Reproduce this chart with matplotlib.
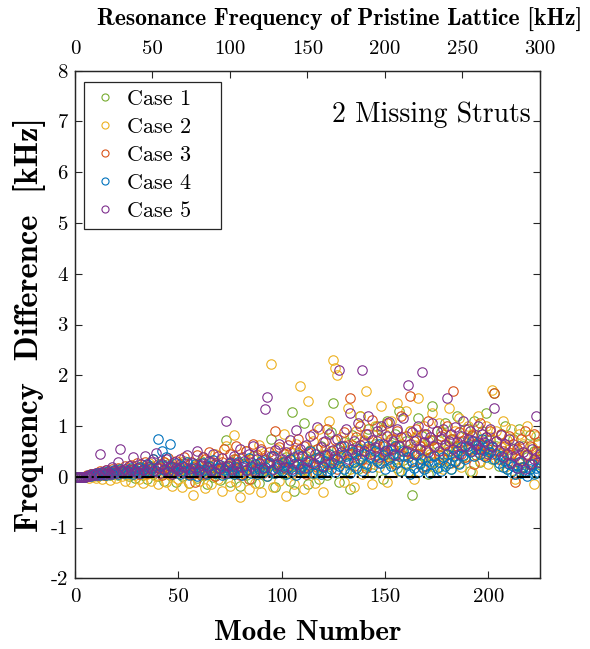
import numpy as np
import matplotlib
matplotlib.use("Agg")
import matplotlib.pyplot as plt

# frequency difference [kHz] per mode
case1 = [0, 0, 0, 0, 0, 0.02, 0.01, 0.04, 0.03, 0.06, 0.02, 0.08, 0.05, 0.03, 0.1, 0.07, 0.04, 0.12, 0.06, 0.09, 0.03, 0.14, 0.08, 0.05, 0.11,
         0.02, 0.16, 0.09, -0.03, 0.12, 0.07, 0.18, 0.04, 0.1, -0.05, 0.15, 0.22, 0.06, 0.12, 0.01, 0.19, 0.08, -0.08, 0.14, 0.25, 0.03, 0.11, 0.2, -0.1, 0.07,
         0.16, 0.02, 0.28, 0.09, -0.12, 0.13, 0.05, 0.21, -0.02, 0.1, 0.31, 0.04, 0.15, -0.15, 0.08, 0.19, 0.0, 0.26, 0.11, -0.07, 0.17, 0.06, 0.72, 0.13, -0.1,
         0.22, 0.05, 0.35, 0.12, -0.18, 0.09, 0.28, 0.03, 0.16, -0.05, 0.41, 0.1, 0.2, -0.12, 0.07, 0.33, 0.14, 0.02, 0.24, 0.75, 0.08, -0.2, 0.3, 0.11, 0.18,
         0.05, 0.38, 0.15, -0.08, 1.28, -0.28, 0.22, 0.47, 0.09, 0.3, 1.05, 0.14, -0.15, 0.52, 0.26, 0.08, 0.36, -0.05, 0.6, 0.19, 0.42, 0.03, 0.31, 0.88, 1.45,
         0.25, 0.55, -0.1, 0.37, 0.68, 0.12, 0.45, -0.25, 0.82, 0.3, 0.58, 0.15, 1.2, 0.4, 0.7, 0.22, 0.95, 0.5, 0.08, 0.65, 1.0, 0.35, 0.78, -0.05, 0.48,
         1.1, 0.28, 0.62, 0.4, 0.85, 0.18, 1.3, 0.52, 0.33, 0.7, 0.1, 0.9, -0.35, 0.45, 0.6, 1.15, 0.25, 0.8, 0.38, 0.55, 0.05, 0.72, 1.4, 0.3, 0.65,
         0.2, 0.88, 0.45, 1.05, 0.35, 0.6, 0.15, 0.75, 0.5, 1.2, 0.28, 0.68, 0.4, 0.95, 0.55, 0.12, 0.8, 1.1, 0.42, 0.65, 0.3, 0.9, 0.58, 1.25, 0.48,
         0.72, 0.35, 1.65, 0.6, 0.22, 0.85, 0.4, 1.0, 0.15, 0.55, 0.3, 0.75, 0.05, 0.45, 0.95, 0.2, 0.6, 0.1, 0.38, 0.82, 0.25, 0.5, 0.08, 0.65, 0.3]
case2 = [0, 0, 0, 0, 0, 0.01, -0.02, 0.05, 0.02, -0.03, 0.07, 0.04, -0.05, 0.1, 0.03, 0.08, -0.06, 0.12, 0.05, -0.02, 0.15, 0.07, 0.02, -0.08, 0.18,
         0.06, -0.1, 0.14, 0.03, 0.22, -0.04, 0.09, -0.12, 0.17, 0.05, 0.28, -0.08, 0.11, 0.02, -0.15, 0.2, 0.07, 0.3, -0.1, 0.13, 0.04, -0.18, 0.24, 0.08, -0.05,
         0.15, -0.2, 0.32, 0.06, -0.12, 0.18, -0.35, 0.1, 0.25, -0.08, 0.04, 0.38, -0.22, 0.12, 0.2, -0.15, 0.07, 0.45, -0.05, 0.16, -0.28, 0.22, 0.6, 0.09, -0.18,
         0.3, 0.82, -0.1, 0.14, -0.4, 0.26, 0.05, 0.5, -0.25, 0.18, 0.35, -0.12, 0.08, 0.62, -0.3, 0.15, 0.42, 0.02, 0.25, 2.22, -0.2, 0.1, 0.55, -0.08, 0.3,
         0.85, -0.38, 0.2, 0.48, 0.05, -0.15, 0.65, 0.28, 1.78, 0.12, -0.25, 0.4, 1.5, 0.08, 0.7, -0.12, 0.35, 0.95, 0.18, -0.3, 0.55, 0.25, 1.1, 0.42, 2.3,
         2.15, 2.0, 0.3, 0.78, -0.1, 0.5, 1.35, 0.15, 0.62, -0.2, 0.9, 0.35, 1.2, 0.05, 0.72, 1.68, 0.28, 0.48, -0.15, 1.0, 0.6, 0.2, 1.4, 0.38, 0.85,
         -0.1, 0.55, 1.1, 0.3, 0.75, 1.45, 0.12, 0.65, 0.42, 1.3, 0.25, 0.9, 0.5, -0.05, 0.8, 1.55, 0.35, 0.6, 1.0, 0.18, 0.7, 0.45, 1.25, 0.3, 0.58,
         1.05, 0.4, 0.15, 0.85, 0.55, 1.35, 0.28, 0.7, 0.9, 0.48, 1.15, 0.2, 0.62, 0.38, 1.0, 0.75, 0.1, 0.55, 0.82, 1.2, 0.32, 0.65, 0.45, 1.0, 0.25,
         0.78, 1.7, 0.5, 0.9, 0.35, 0.6, 1.1, 0.2, 0.72, 0.45, 0.95, 0.3, -0.05, 0.55, 0.85, 0.15, 0.65, 0.4, 1.0, 0.25, 0.58, -0.15, 0.8, 0.35, 0.5]
case3 = [0, 0, 0, 0, 0, 0.03, 0.02, 0.06, 0.04, 0.08, 0.05, 0.11, 0.07, 0.04, 0.13, 0.09, 0.06, 0.15, 0.1, 0.07, 0.18, 0.12, 0.08, 0.21, 0.14,
         0.09, 0.24, 0.16, 0.11, 0.28, 0.05, 0.19, 0.13, 0.3, 0.08, 0.22, 0.15, 0.34, 0.1, 0.25, 0.18, 0.04, 0.29, 0.14, 0.36, 0.07, 0.21, 0.12, 0.32, 0.16,
         0.26, 0.09, 0.38, 0.17, 0.05, 0.3, 0.2, -0.1, 0.42, 0.13, 0.27, 0.06, 0.35, 0.19, 0.48, 0.1, 0.24, 0.02, 0.4, 0.15, 0.3, 0.55, 0.08, 0.22, 0.45,
         0.12, 0.34, 0.6, 0.18, 0.04, 0.38, 0.25, 0.5, -0.05, 0.3, 0.65, 0.15, 0.42, 0.2, 0.55, 0.08, 0.35, 0.27, 0.48, 0.12, 0.4, 0.9, 0.22, 0.58, 0.3,
         0.45, 0.15, 0.62, 0.35, 0.1, 0.52, 0.28, 0.75, 0.18, 0.4, 0.6, 0.05, 0.48, 0.3, 0.85, 0.22, 0.55, 0.38, 0.12, 0.68, 0.42, 0.95, 0.26, 0.5, 0.35,
         0.72, 0.15, 0.58, 0.4, 0.88, 0.3, 0.62, 1.55, 0.45, 0.22, 0.78, 0.5, 1.0, 0.35, 0.65, 0.18, 0.85, 0.55, 1.12, 0.4, 0.7, 0.28, 0.92, 0.6, 0.45,
         1.05, 0.38, 0.75, 0.55, 0.25, 0.9, 0.62, 1.2, 0.4, 0.8, 0.5, 1.6, 0.32, 0.7, 0.95, 0.45, 0.6, 0.2, 0.85, 0.52, 1.1, 0.38, 0.72, 0.58, 0.9,
         0.42, 0.8, 0.35, 0.65, 1.0, 0.5, 0.75, 1.68, 0.3, 0.6, 0.88, 0.45, 0.7, 0.38, 0.95, 0.55, 0.82, 0.25, 0.65, 0.48, 1.05, 0.62, 0.4, 0.78, 0.55,
         0.9, 0.45, 1.65, 0.7, 0.35, 0.85, 0.5, 0.6, 0.28, 0.8, 0.42, 0.65, -0.1, 0.55, 0.35, 0.75, 0.2, 0.9, 0.45, 0.6, 0.3, 0.85, 0.5, 0.68, 0.4]
case4 = [0, 0, 0, 0, 0, 0.01, 0.03, 0.02, 0.05, 0.04, 0.07, 0.03, 0.09, 0.06, 0.04, 0.11, 0.08, 0.05, 0.13, 0.09, 0.06, 0.15, 0.1, 0.07, 0.12,
         0.08, 0.17, 0.05, 0.13, 0.1, 0.2, 0.07, 0.15, 0.11, 0.26, 0.09, 0.18, 0.35, 0.12, 0.75, 0.22, 0.5, 0.14, 0.38, 0.1, 0.65, 0.2, 0.08, 0.28, 0.15,
         0.06, 0.22, 0.12, 0.3, 0.04, 0.18, 0.1, 0.25, 0.02, 0.16, 0.09, 0.28, 0.13, 0.05, 0.21, 0.11, 0.33, 0.07, 0.17, 0.24, 0.03, 0.14, 0.2, 0.08, 0.27,
         0.12, 0.05, 0.19, 0.3, 0.1, 0.04, 0.22, 0.14, 0.36, 0.08, 0.18, 0.25, 0.06, 0.15, 0.32, 0.1, 0.2, 0.02, 0.28, 0.13, 0.4, 0.08, 0.17, 0.24, 0.11,
         0.3, 0.06, 0.19, 0.35, 0.12, 0.25, 0.04, 0.42, 0.15, 0.22, 0.09, 0.3, 0.18, 0.5, 0.08, 0.26, 0.14, 0.38, 0.05, 0.2, 0.32, 0.11, 0.45, 0.16, 0.28,
         0.1, 0.35, 0.22, 0.6, 0.15, 0.4, 0.28, 0.08, 0.48, 0.3, 0.18, 0.55, 0.35, 0.12, 0.45, 0.25, 0.6, 0.38, 0.2, 0.5, 0.32, 0.65, 0.28, 0.42, 0.15,
         0.52, 0.35, 0.22, 0.45, 0.6, 0.3, 0.4, 0.12, 0.5, 0.25, 0.38, 0.05, 0.3, 0.18, 0.42, 0.1, 0.28, 0.35, 0.15, 0.22, 0.32, 0.08, 0.25, 0.4, 0.18,
         0.3, 0.12, 0.38, 0.22, 0.45, 0.28, 0.15, 0.4, 0.32, 0.5, 0.25, 0.58, 0.42, 0.35, 0.6, 0.48, 0.7, 0.4, 0.55, 0.62, 0.45, 0.75, 0.52, 0.38, 0.65,
         0.48, 0.58, 0.35, 0.45, 0.28, 0.4, 0.2, 0.32, 0.15, 0.25, 0.1, 0.22, 0.05, 0.18, 0.3, 0.08, 0.2, 0.12, 0.02, 0.15, 0.25, 0.05, 0.18, 0.1, 0.2]
case5 = [0, 0, 0, 0, 0, 0.01, 0.02, 0.05, 0.03, 0.08, 0.04, 0.45, 0.1, 0.06, 0.14, 0.08, 0.05, 0.2, 0.11, 0.07, 0.3, 0.55, 0.12, 0.16, 0.09,
         0.22, 0.13, 0.38, 0.1, 0.18, 0.07, 0.26, 0.14, 0.4, 0.09, 0.2, 0.3, 0.12, 0.46, 0.17, 0.08, 0.25, 0.15, 0.34, 0.11, 0.22, 0.06, 0.29, 0.18, 0.13,
         0.35, 0.1, 0.2, 0.42, 0.15, 0.08, 0.28, 0.18, 0.5, 0.12, 0.24, 0.38, 0.07, 0.2, 0.31, 0.14, 0.45, 0.1, 0.26, 0.18, 0.36, 0.08, 1.1, 0.22, 0.3,
         0.15, 0.4, 0.25, 0.1, 0.55, 0.2, 0.32, 0.14, 0.45, 0.22, 0.6, 0.12, 0.35, 0.28, 0.5, 0.18, 1.33, 1.57, 0.3, 0.4, 0.15, 0.52, 0.25, 0.65, 0.35,
         0.2, 0.48, 0.3, 0.72, 0.15, 0.38, 0.92, 0.25, 0.55, 0.4, 0.18, 0.62, 0.32, 0.8, 0.28, 0.45, 0.98, 0.35, 0.58, 0.22, 0.7, 0.42, 0.85, 0.3, 0.52,
         0.4, 0.75, 2.1, 0.48, 0.6, 0.95, 0.35, 1.25, 0.55, 0.7, 0.42, 1.05, 0.62, 2.1, 0.5, 0.85, 1.2, 0.45, 0.72, 0.58, 0.9, 0.38, 1.0, 0.65, 0.5,
         0.8, 1.08, 0.55, 0.7, 0.42, 0.95, 0.6, 0.78, 1.15, 0.5, 1.8, 0.65, 0.88, 0.45, 0.72, 1.0, 0.55, 2.07, 0.68, 0.85, 0.48, 0.78, 1.05, 0.6, 0.9,
         0.5, 0.75, 0.95, 0.62, 1.55, 0.7, 0.85, 0.55, 0.98, 0.68, 0.45, 0.8, 1.1, 0.6, 0.75, 0.9, 0.5, 0.7, 0.62, 1.0, 0.55, 0.85, 0.68, 0.78, 0.45,
         0.95, 0.6, 1.35, 0.7, 0.5, 0.82, 0.38, 0.65, 0.45, 0.75, 0.28, 0.55, 0.4, 0.18, 0.6, 0.32, 0.48, 0.15, 0.42, 0.25, 0.55, 0.35, 1.2, 0.3, 0.45]

cases = [case1, case2, case3, case4, case5]
labels = ["Case 1", "Case 2", "Case 3", "Case 4", "Case 5"]
colors = ["#77AC30", "#EDB120", "#D95319", "#0072BD", "#7E2F8E"]

xticks_mode = [0, 50, 100, 150, 200]
xticks_freq = [0, 50, 100, 150, 200, 250, 300]
yticks = [-2, -1, 0, 1, 2, 3, 4, 5, 6, 7, 8]

plt.rcParams["axes.unicode_minus"] = False
axcol = "#262626"

fig = plt.figure(figsize=(5.9, 6.49), dpi=100)
ax = fig.add_axes([0.127, 0.109, 0.788, 0.782])

modes = np.arange(1, len(case1) + 1)
for vals, lab, c in zip(cases, labels, colors):
    ax.plot(modes, vals, "o", mfc="none", mec=c, ms=6.8, mew=0.8, label=lab + "   ")
ax.plot([0, 225], [0, 0], "k-.", lw=1.5, zorder=5)

ax.set_xlim(0, 225)
ax.set_ylim(-2, 8)
ax.set_xticks(xticks_mode)
ax.set_xticklabels([str(v) for v in xticks_mode], family="cmr10", fontsize=15)
ax.set_yticks(yticks)
ax.set_yticklabels([str(v) for v in yticks], family="cmr10", fontsize=15)
ax.tick_params(direction="in", length=5, width=0.8, colors=axcol, labelcolor="black",
               right=True)
ax.tick_params(axis="x", pad=7)
ax.tick_params(axis="y", pad=5)
for s in ax.spines.values():
    s.set_color(axcol)
    s.set_linewidth(0.9)

ax.set_xlabel("Mode Number", family="cmb10", fontsize=21, labelpad=10)
ax.set_ylabel("Frequency  Difference  [kHz]", family="cmb10", fontsize=23.5, labelpad=3)

ax2 = ax.twiny()
ax2.set_xlim(0, 300)
ax2.set_xticks(xticks_freq)
ax2.set_xticklabels([str(v) for v in xticks_freq], family="cmr10", fontsize=15)
ax2.tick_params(direction="in", length=5, width=0.8, colors=axcol, labelcolor="black", pad=9)
for s in ax2.spines.values():
    s.set_color(axcol)
    s.set_linewidth(0.9)
ax2.set_xlabel("Resonance Frequency of Pristine Lattice [kHz]", family="cmb10",
               fontsize=17)
ax2.xaxis.set_label_coords(0.57, 1.088)

ax.text(0.981, 0.913, "2 Missing Struts", transform=ax.transAxes, ha="right",
        va="center", family="cmr10", fontsize=20)

leg = ax.legend(loc="upper left", bbox_to_anchor=(0.019, 0.978), prop={"family": "cmr10", "size": 16},
                frameon=True, fancybox=False, framealpha=1, edgecolor=axcol,
                borderpad=0.35, labelspacing=0.38, handlelength=1.2, handletextpad=0.4,
                markerscale=0.75, borderaxespad=0)
leg.get_frame().set_linewidth(0.9)

fig.savefig("out.png", dpi=100)
